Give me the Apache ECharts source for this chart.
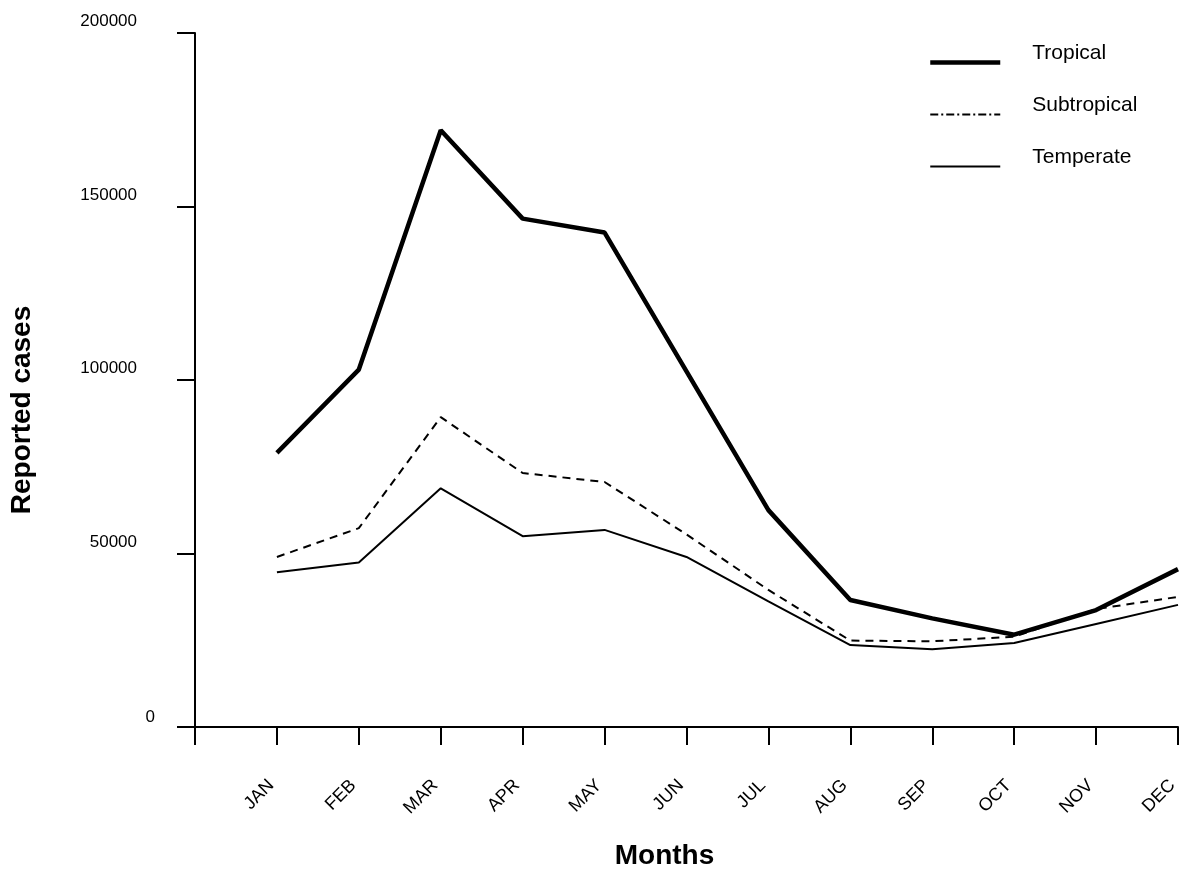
<!DOCTYPE html>
<html>
<head>
<meta charset="utf-8">
<script src="https://cdn.jsdelivr.net/npm/echarts@6/dist/echarts.min.js"></script>
<style>
  html, body { margin: 0; padding: 0; background: #fff; }
  #chart { width: 1200px; height: 875px; }
</style>
</head>
<body>
<div id="chart"></div>
<script>
const months = ['JAN','FEB','MAR','APR','MAY','JUN','JUL','AUG','SEP','OCT','NOV','DEC'];
const tropical    = [79000, 103000, 172000, 146500, 142500, 102500, 62500, 36600, 31300, 26600, 33700, 45500];
const subtropical = [49000, 57300, 89300, 73200, 70600, 55500, 39500, 24900, 24700, 26000, 34000, 37500];
const temperate   = [44600, 47400, 68800, 55000, 56800, 49000, 36200, 23600, 22400, 24200, 29700, 35200];
const yTicks = [0, 50000, 100000, 150000, 200000];

const FONT = '"Liberation Sans", Arial, sans-serif';
const toPairs = arr => arr.map((v, i) => [i + 1, v]);

const chart = echarts.init(document.getElementById('chart'), null, { renderer: 'canvas' });
chart.setOption({
  backgroundColor: '#ffffff',
  animation: false,
  grid: { left: 195, right: 22, top: 33, bottom: 148, containLabel: false, outerBoundsMode: 'none' },
  legend: {
    orient: 'vertical',
    left: 928,
    top: 43,
    padding: 0,
    itemWidth: 70,
    itemHeight: 14,
    itemGap: 13,
    itemStyle: { opacity: 0 },
    formatter: name => '{t|' + name + '}',
    textStyle: {
      fontFamily: FONT, fontSize: 21, color: '#000', lineHeight: 20, padding: [0, 0, 0, 27],
      rich: { t: { fontFamily: FONT, fontSize: 21, color: '#000', lineHeight: 20, padding: [0, 0, 18, 0] } }
    },
    data: [
      { name: 'Tropical', lineStyle: { width: 4.5, type: 'solid' } },
      { name: 'Subtropical', lineStyle: { width: 2, type: [8, 3, 2, 3] } },
      { name: 'Temperate', lineStyle: { width: 2, type: 'solid' } }
    ]
  },
  xAxis: {
    type: 'value',
    min: 0,
    max: 12,
    interval: 1,
    name: 'Months',
    nameLocation: 'middle',
    nameGap: 115,
    nameTextStyle: { fontFamily: FONT, fontSize: 28, fontWeight: 'bold', color: '#000', padding: [0, 44, 0, 0] },
    axisLine: { show: true, lineStyle: { color: '#000', width: 2 } },
    axisTick: { show: true, inside: false, length: 18, lineStyle: { color: '#000', width: 2 } },
    splitLine: { show: false },
    axisLabel: {
      rotate: 45,
      margin: 50,
      fontFamily: FONT,
      fontSize: 18,
      color: '#000',
      padding: [0, 8, 0, 0],
      formatter: v => (v >= 1 && v <= 12 ? months[v - 1] : '')
    }
  },
  yAxis: {
    type: 'value',
    min: yTicks[0],
    max: yTicks[yTicks.length - 1],
    interval: 50000,
    name: 'Reported cases',
    nameLocation: 'middle',
    nameGap: 159,
    nameTextStyle: { fontFamily: FONT, fontSize: 28, fontWeight: 'bold', color: '#000', padding: [0, 60, 0, 0] },
    axisLine: { show: true, lineStyle: { color: '#000', width: 2 } },
    axisTick: { show: true, inside: false, length: 18, lineStyle: { color: '#000', width: 2 } },
    splitLine: { show: false },
    axisLabel: {
      margin: 40,
      align: 'right',
      verticalAlign: 'bottom',
      fontFamily: FONT,
      fontSize: 17,
      color: '#000',
      formatter: v => (v === 0 ? '{z|0}' : '{n|' + v + '}'),
      rich: {
        z: { fontFamily: FONT, fontSize: 17, color: '#000', padding: [0, 0, 1, 0] },
        n: { fontFamily: FONT, fontSize: 17, color: '#000', padding: [0, 18, 3, 0] }
      }
    }
  },
  series: [
    {
      name: 'Tropical', type: 'line', data: toPairs(tropical),
      symbol: 'none', lineStyle: { color: '#000', width: 4.5, type: 'solid' },
      itemStyle: { color: '#000' }
    },
    {
      name: 'Subtropical', type: 'line', data: toPairs(subtropical),
      symbol: 'none', lineStyle: { color: '#000', width: 2, type: [8, 6] },
      itemStyle: { color: '#000' }
    },
    {
      name: 'Temperate', type: 'line', data: toPairs(temperate),
      symbol: 'none', lineStyle: { color: '#000', width: 2, type: 'solid' },
      itemStyle: { color: '#000' }
    }
  ]
});
</script>
</body>
</html>
